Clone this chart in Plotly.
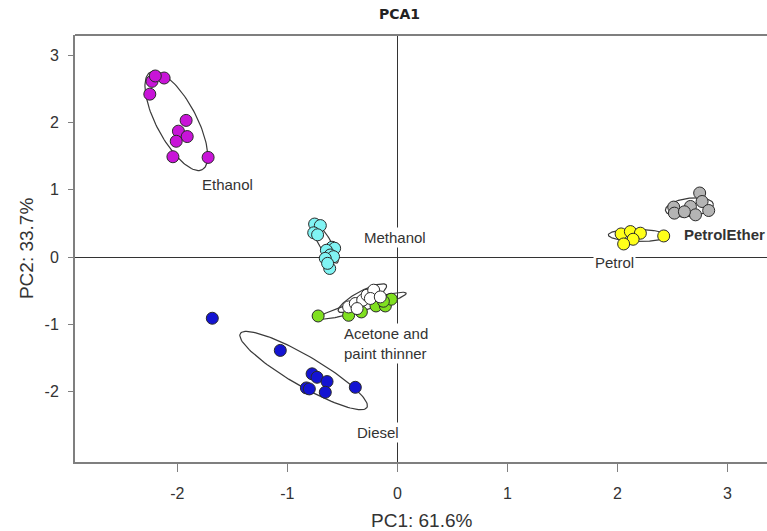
import numpy as np
import plotly.graph_objects as go

# ---------------- data ----------------
groups = ["Ethanol", "Methanol", "Acetone", "Paint thinner", "Diesel", "Petrol", "PetrolEther"]

ethanol_x = [-2.23, -2.12, -2.25, -2.20, -1.92, -1.99, -1.91, -2.01, -2.04, -1.72]
ethanol_y = [2.61, 2.66, 2.42, 2.69, 2.03, 1.87, 1.79, 1.72, 1.49, 1.48]

methanol_x = [-0.752, -0.70, -0.76, -0.725, -0.594, -0.57, -0.645, -0.61, -0.58, -0.655, -0.615, -0.634]
methanol_y = [0.49, 0.467, 0.36, 0.33, 0.145, 0.13, 0.10, 0.03, 0.005, -0.02, -0.17, -0.094]

acetone_x = [-0.72, -0.443, -0.327, -0.194, -0.109, -0.055, -0.127]
acetone_y = [-0.876, -0.866, -0.816, -0.727, -0.727, -0.627, -0.657]

thinner_x = [-0.443, -0.382, -0.315, -0.275, -0.215, -0.245, -0.155, -0.366]
thinner_y = [-0.742, -0.691, -0.642, -0.567, -0.493, -0.616, -0.593, -0.766]

diesel_x = [-1.682, -1.064, -0.775, -0.73, -0.639, -0.827, -0.80, -0.655, -0.382]
diesel_y = [-0.91, -1.388, -1.736, -1.787, -1.851, -1.945, -1.96, -2.01, -1.936]

petrol_x = [2.034, 2.118, 2.209, 2.143, 2.057, 2.421]
petrol_y = [0.343, 0.378, 0.354, 0.264, 0.194, 0.313]

ether_x = [2.748, 2.512, 2.518, 2.664, 2.77, 2.83, 2.71, 2.609]
ether_y = [0.951, 0.742, 0.652, 0.751, 0.825, 0.691, 0.627, 0.672]

tick_vals = [-2, -1, 0, 1, 2, 3]
tick_text = ["-2", "-1", "0", "1", "2", "3"]

# ellipse: centre (x, y), major half-vector (ux, uy), minor half-vector (vx, vy)
ellipses = {
    "Ethanol":       [(-2.009, 2.022), (0.236, -0.724), (0.160, 0.140)],
    "Methanol":      [(-0.664, 0.224), (0.118, -0.313), (0.046, 0.048)],
    "Acetone":       [(-0.318, -0.724), (0.40, 0.187), (0.0127, -0.072)],
    "Paint thinner": [(-0.318, -0.612), (0.218, 0.194), (0.030, -0.092)],
    "Diesel":        [(-0.852, -1.687), (0.576, -0.548), (-0.068, -0.194)],
    "Petrol":        [(2.186, 0.321), (0.268, -0.0075), (0.0, 0.09)],
    "PetrolEther":   [(2.655, 0.739), (0.218, 0.045), (0.009, -0.134)],
}

colors = {
    "Ethanol": "#C814D8",
    "Methanol": "#80F4F4",
    "Acetone": "#80E020",
    "Paint thinner": "#FFFFFF",
    "Diesel": "#1414D2",
    "Petrol": "#FFFF1A",
    "PetrolEther": "#B4B4B4",
}

points = {
    "Ethanol": (ethanol_x, ethanol_y),
    "Methanol": (methanol_x, methanol_y),
    "Acetone": (acetone_x, acetone_y),
    "Paint thinner": (thinner_x, thinner_y),
    "Diesel": (diesel_x, diesel_y),
    "Petrol": (petrol_x, petrol_y),
    "PetrolEther": (ether_x, ether_y),
}

labels = [
    ("Ethanol", -1.545, 1.075, "center"),
    ("Methanol", -0.02, 0.284, "center"),
    ("Petrol", 1.973, -0.075, "center"),
    ("Acetone and<br>paint thinner", -0.50, -1.284, "left"),
    ("Diesel", -0.173, -2.61, "center"),
]

# ---------------- figure ----------------
fig = go.Figure()
t = np.linspace(0, 2 * np.pi, 120)
for g in groups:
    (cx, cy), (ux, uy), (vx, vy) = ellipses[g]
    ex = cx + ux * np.cos(t) + vx * np.sin(t)
    ey = cy + uy * np.cos(t) + vy * np.sin(t)
    fig.add_trace(go.Scatter(x=ex, y=ey, mode="lines",
                             line=dict(color="#3a3a3a", width=1.2),
                             hoverinfo="skip", showlegend=False))
for g in groups:
    xs, ys = points[g]
    fig.add_trace(go.Scatter(x=xs, y=ys, mode="markers", name=g,
                             marker=dict(size=12, color=colors[g],
                                         line=dict(color="#2a2a2a", width=1)),
                             showlegend=False))

font = "Arial, Liberation Sans, sans-serif"
for txt, x, y, anchor in labels:
    fig.add_annotation(x=x, y=y, xref="x", yref="y", text=txt, showarrow=False,
                       xanchor=anchor, align="left",
                       font=dict(family=font, size=15, color="#333333"),
                       bgcolor="white", borderpad=1)
fig.add_annotation(x=2.59, y=0.33, xref="x", yref="y", text="<b>PetrolEther</b>",
                   showarrow=False, xanchor="left",
                   font=dict(family=font, size=15, color="#333333"))

# title and axis titles
fig.add_annotation(x=0.02, y=1.0, xref="x", yref="paper", yshift=21, yanchor="middle",
                   text="<b>PCA1</b>", showarrow=False,
                   font=dict(family="DejaVu Sans, Verdana", size=14, color="#222"))
fig.add_annotation(x=0.5, y=-0.136, xref="paper", yref="paper", yanchor="middle",
                   text="PC1: 61.6%", showarrow=False,
                   font=dict(family=font, size=19, color="#333"))
fig.add_annotation(x=-0.07, y=0.5, xref="paper", yref="paper", xanchor="center",
                   yanchor="middle", text="PC2: 33.7%", textangle=-90, showarrow=False,
                   font=dict(family=font, size=19, color="#333"))

# top border
fig.add_shape(type="line", xref="paper", yref="paper", x0=0, x1=1, y0=1, y1=1,
              line=dict(color="#7f7f7f", width=2))

fig.update_xaxes(range=[-2.93, 3.36], tickvals=tick_vals, ticktext=tick_text,
                 showgrid=False, zeroline=True, zerolinecolor="#333", zerolinewidth=1,
                 showline=True, linecolor="#7f7f7f", linewidth=2,
                 ticks="outside", ticklen=8, tickcolor="#7f7f7f", ticklabelstandoff=8,
                 tickfont=dict(family=font, size=16, color="#333"))
fig.update_yaxes(range=[-3.046, 3.299], tickvals=tick_vals, ticktext=tick_text,
                 showgrid=False, zeroline=True, zerolinecolor="#333", zerolinewidth=1,
                 showline=True, linecolor="#7f7f7f", linewidth=2,
                 ticks="outside", ticklen=5, tickcolor="#7f7f7f", ticklabelstandoff=6,
                 tickfont=dict(family=font, size=16, color="#333"))

fig.update_layout(width=767, height=531, margin=dict(l=75, r=0, t=35, b=69),
                  plot_bgcolor="white", paper_bgcolor="white", showlegend=False)

fig.write_html("out.html")
